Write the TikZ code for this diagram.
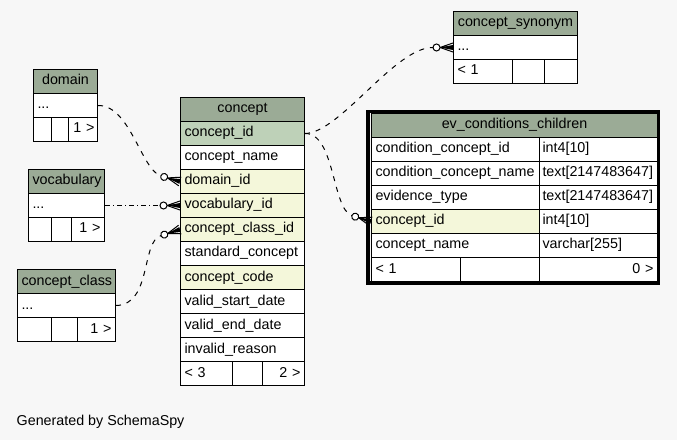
\documentclass[tikz,border=0pt]{standalone}
\usepackage{fontspec}
\setmainfont{Liberation Sans}
\definecolor{bgc}{HTML}{F7F7F7}
\definecolor{hdrc}{HTML}{9BAB96}
\definecolor{pkc}{HTML}{BED1B8}
\definecolor{fkc}{HTML}{F4F7DA}
\newcommand\tabfont{\fontsize{14.3bp}{16bp}\selectfont}
\tikzset{
  cell/.style={draw, line width=1bp, fill=white, minimum height=24bp, inner xsep=4bp, inner ysep=0pt,
    text height=10bp, text depth=3bp, anchor=north west, align=left, font=\tabfont},
  hdr/.style={cell, fill=hdrc, align=center},
  pkcell/.style={cell, fill=pkc},
  fkcell/.style={cell, fill=fkc},
  rcell/.style={cell, align=right},
  rel/.style={line width=1bp, dash pattern=on 5bp off 6bp},
  reldd/.style={line width=1bp, dash pattern=on 5bp off 3bp on 1bp off 3bp},
  crowodot/.pic={
    \draw[line width=1bp] (-13,0) -- (0,-4.5) (-13,0) -- (0,0) (-13,0) -- (0,4.5);
    \fill (-13,0) -- (0,-2.5) -- (0,2.5) -- cycle;
    \draw[line width=1bp, fill=white] (-16.5,0) circle[radius=3.5];
    \coordinate (-c) at (-20,0);
  }
}
\begin{document}
\begin{tikzpicture}[x=1bp,y=-1bp]
\fill[bgc] (0,0) rectangle (677,440);
\useasboundingbox (0,0) rectangle (677,440);

% concept
\node[hdr, text width=116bp] (c-h) at (180,97) {concept};
\node[pkcell, text width=116bp] (c-id) at (180,121) {concept\_id};
\node[cell, text width=116bp] (c-name) at (180,145) {concept\_name};
\node[fkcell, text width=116bp] (c-dom) at (180,169) {domain\_id};
\node[fkcell, text width=116bp] (c-voc) at (180,193) {vocabulary\_id};
\node[fkcell, text width=116bp] (c-cls) at (180,217) {concept\_class\_id};
\node[cell, text width=116bp] (c-std) at (180,241) {standard\_concept};
\node[fkcell, text width=116bp] (c-code) at (180,265) {concept\_code};
\node[cell, text width=116bp] (c-vsd) at (180,289) {valid\_start\_date};
\node[cell, text width=116bp] (c-ved) at (180,313) {valid\_end\_date};
\node[cell, text width=116bp] (c-inv) at (180,337) {invalid\_reason};
\node[cell, text width=44bp] (c-f1) at (180,361) {<~3};
\node[cell, text width=22bp] (c-f2) at (232,361) {};
\node[rcell, text width=34bp] (c-f3) at (262,361) {2~>};

% domain
\node[hdr, text width=56bp] (d-h) at (33,69) {domain};
\node[cell, text width=56bp] (d-r) at (33,93) {...};
\node[cell, text width=10bp] (d-f1) at (33,117) {};
\node[cell, text width=9bp] (d-f2) at (51,117) {};
\node[rcell, text width=23bp, inner xsep=3bp] (d-f3) at (68,117) {1~>};

% vocabulary
\node[hdr, text width=68bp] (v-h) at (28,169) {vocabulary};
\node[cell, text width=68bp] (v-r) at (28,193) {...};
\node[cell, text width=15bp] (v-f1) at (28,217) {};
\node[cell, text width=12bp] (v-f2) at (51,217) {};
\node[rcell, text width=25bp] (v-f3) at (71,217) {1~>};

% concept_class
\node[hdr, text width=90bp] (k-h) at (17,269) {concept\_class};
\node[cell, text width=90bp] (k-r) at (17,293) {...};
\node[cell, text width=26bp] (k-f1) at (17,317) {};
\node[cell, text width=18bp] (k-f2) at (51,317) {};
\node[rcell, text width=30bp] (k-f3) at (77,317) {1~>};

% concept_synonym
\node[hdr, text width=116bp] (s-h) at (453,11) {concept\_synonym};
\node[cell, text width=116bp] (s-r) at (453,35) {...};
\node[cell, text width=51bp] (s-f1) at (453,59) {<~1};
\node[cell, text width=24bp] (s-f2) at (512,59) {};
\node[cell, text width=25bp] (s-f3) at (544,59) {};

% ev_conditions_children
\node[hdr, text width=278bp] (e-h) at (371,113) {ev\_conditions\_children};
\node[cell, text width=160bp] (e-1a) at (371,137) {condition\_concept\_id};
\node[cell, text width=112bp, inner xsep=3bp] (e-1b) at (539,137) {int4[10]};
\node[cell, text width=160bp] (e-2a) at (371,161) {condition\_concept\_name};
\node[cell, text width=112bp, inner xsep=3bp] (e-2b) at (539,161) {text[2147483647]};
\node[cell, text width=160bp] (e-3a) at (371,185) {evidence\_type};
\node[cell, text width=112bp, inner xsep=3bp] (e-3b) at (539,185) {text[2147483647]};
\node[fkcell, text width=160bp] (e-4a) at (371,209) {concept\_id};
\node[cell, text width=112bp, inner xsep=3bp] (e-4b) at (539,209) {int4[10]};
\node[cell, text width=160bp] (e-5a) at (371,233) {concept\_name};
\node[cell, text width=112bp, inner xsep=3bp] (e-5b) at (539,233) {varchar[255]};
\node[cell, text width=81bp] (e-f1) at (371,257) {<~1};
\node[cell, text width=71bp] (e-f2) at (460,257) {};
\node[rcell, text width=110bp] (e-f3) at (539,257) {0~>};
\draw[line width=3.5bp] (368,111.5) rectangle (658.5,283);

% connector ends
\pic[rotate=-16] (pd) at (c-dom.west) {crowodot};
\pic (pv) at (c-voc.west) {crowodot};
\pic[rotate=18] (pk) at (c-cls.west) {crowodot};
\pic[rotate=-17] (pe) at (e-4a.west) {crowodot};
\pic (ps) at (s-r.west) {crowodot};

% connectors
\draw[rel] (d-r.east) .. controls (130,105) and (141,169) .. (pd-c);
\draw[reldd] (v-r.east) -- (pv-c);
\draw[rel] (k-r.east) .. controls (152,305) and (141,241) .. (pk-c);
\draw[rel] (c-id.east) .. controls (335,133) and (332,209) .. (pe-c);
\draw[rel] (c-id.east) .. controls (340,133) and (395,47) .. (ps-c);

\node[font=\tabfont, anchor=base west, inner sep=0pt] (gen) at (16.5,425) {Generated by SchemaSpy};
\end{tikzpicture}
\end{document}
